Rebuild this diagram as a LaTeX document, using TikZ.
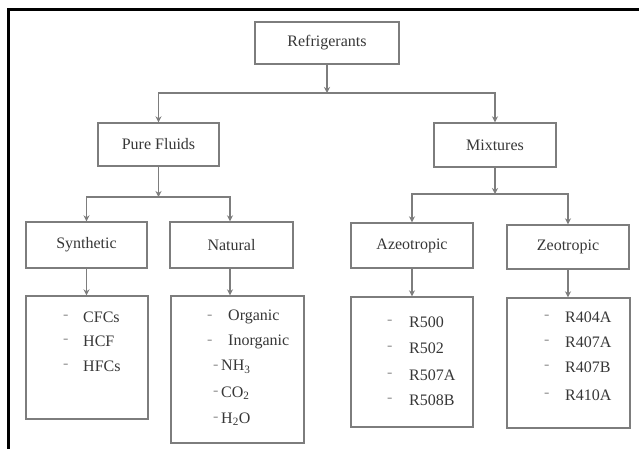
\documentclass[tikz,border=0pt]{standalone}
\usepackage{fontspec}
\setmainfont{Liberation Serif}
\usetikzlibrary{arrows.meta}
\definecolor{boxline}{RGB}{125,125,125}
\definecolor{txt}{RGB}{55,55,55}
\definecolor{dashc}{RGB}{150,150,150}
\tikzset{
  box/.style={draw=boxline, line width=1.4pt, minimum width=#1, inner sep=0pt, text=txt, font=\fontsize{16}{18}\selectfont},
  box/.default=122pt,
  arr/.style={draw=boxline, line width=1.4pt, -{Stealth[length=6pt,width=6pt]}},
  item/.style={anchor=west, inner sep=0pt, text=txt, font=\fontsize{16}{18}\selectfont},
  dsh/.style={anchor=west, inner sep=0pt, text=dashc, font=\fontsize{16}{18}\selectfont},
  frame/.style={draw=black, line width=3pt}
}
\begin{document}
\begin{tikzpicture}[x=1pt,y=-1pt]
\useasboundingbox (0,0) rectangle (639,449);
\fill[white] (0,0) rectangle (639,449);
% frame
\draw[frame] (8,449) -- (8,10) -- (639,10);

% level 0
\node[box=144pt, minimum height=42pt] (ref) at (327,43) {Refrigerants};
% level 1
\node[box=121pt, minimum height=43pt] (pure) at (158.5,144.5) {Pure Fluids};
\node[box=122pt, minimum height=44pt] (mix) at (495,145) {Mixtures};
% level 2
\node[box=121pt, minimum height=46pt] (syn) at (86.5,245) {Synthetic};
\node[box=123pt, minimum height=46pt] (nat) at (231.5,245) {Natural};
\node[box=122pt, minimum height=45pt] (azeo) at (412,245.5) {Azeotropic};
\node[box=122pt, minimum height=44pt] (zeo) at (568,247) {Zeotropic};
% level 3 list boxes
\node[box=122pt, minimum height=123pt] (synl) at (87,357.5) {};
\node[box=133pt, minimum height=147pt] (natl) at (237.5,369.5) {};
\node[box=122pt, minimum height=130pt] (azeol) at (412,362) {};
\node[box=123pt, minimum height=130pt] (zeol) at (568.5,363) {};

% junctions
\coordinate (j1) at (327,93);
\coordinate (j2) at (158.5,197);
\coordinate (j3) at (495,194);

\draw[arr] (ref.south) -- (j1);
\draw[arr] (j1) -| (pure.north);
\draw[arr] (j1) -| (mix.north);
\draw[arr] (pure.south) -- (j2);
\draw[arr] (j2) -| (syn.north);
\draw[arr] (j2) -| ([xshift=-1.5pt]nat.north);
\draw[arr] (mix.south) -- (j3);
\draw[arr] (j3) -| (azeo.north);
\draw[arr] (j3) -| (zeo.north);
\draw[arr] (syn.south) -- (syn.south |- synl.north);
\draw[arr] ([xshift=-1.5pt]nat.south) -- ([xshift=-1.5pt]nat.south |- natl.north);
\draw[arr] (azeo.south) -- (azeo.south |- azeol.north);
\draw[arr] (zeo.south) -- (zeo.south |- zeol.north);

% Synthetic list
\node[dsh] (sd1) at (63,317) {-};
\node[item] (s1) at (83,317) {CFCs};
\node[dsh] (sd2) at (63,341) {-};
\node[item] (s2) at (83,341) {HCF};
\node[dsh] (sd3) at (63,366) {-};
\node[item] (s3) at (83,366) {HFCs};

% Natural list
\node[dsh] (nd1) at (207,317) {-};
\node[item] (n1) at (228,317) {Organic};
\node[dsh] (nd2) at (207,342) {-};
\node[item] (n2) at (228,342) {Inorganic};
\node[dsh] (nd3) at (213,367) {-};
\node[item] (n3) at (221,367) {NH\textsubscript{3}};
\node[dsh] (nd4) at (213,393) {-};
\node[item] (n4) at (221,393) {CO\textsubscript{2}};
\node[dsh] (nd5) at (213,419) {-};
\node[item] (n5) at (221,419) {H\textsubscript{2}O};

% Azeotropic list
\node[dsh] (ad1) at (387,322) {-};
\node[item] (a1) at (409,322) {R500};
\node[dsh] (ad2) at (387,348) {-};
\node[item] (a2) at (409,348) {R502};
\node[dsh] (ad3) at (387,375) {-};
\node[item] (a3) at (409,375) {R507A};
\node[dsh] (ad4) at (387,400) {-};
\node[item] (a4) at (409,400) {R508B};

% Zeotropic list
\node[dsh] (zd1) at (544,317) {-};
\node[item] (z1) at (565,317) {R404A};
\node[dsh] (zd2) at (544,342) {-};
\node[item] (z2) at (565,342) {R407A};
\node[dsh] (zd3) at (544,367) {-};
\node[item] (z3) at (565,367) {R407B};
\node[dsh] (zd4) at (544,395) {-};
\node[item] (z4) at (565,395) {R410A};
\end{tikzpicture}
\end{document}
